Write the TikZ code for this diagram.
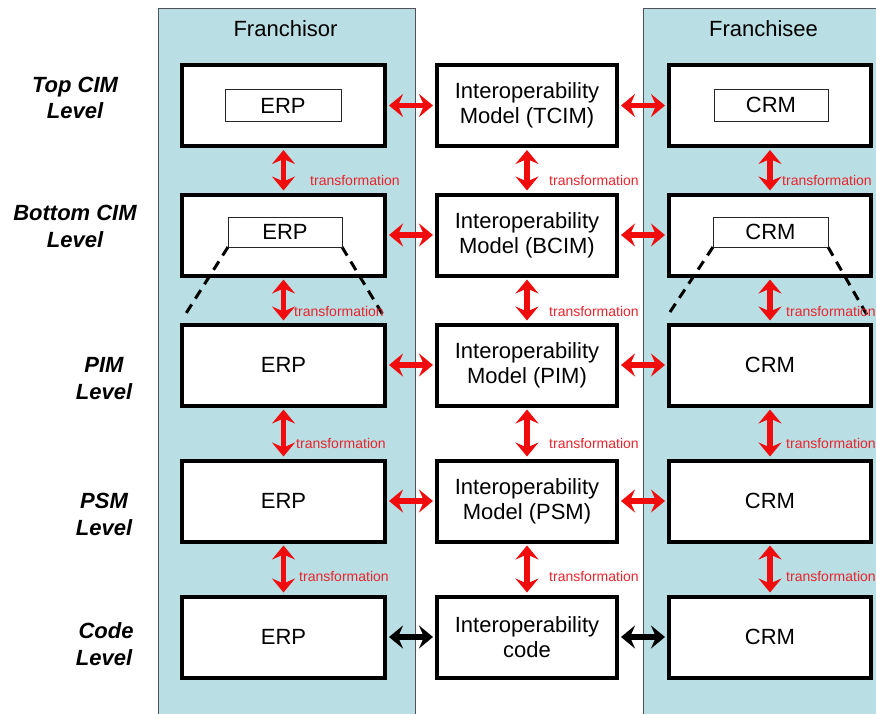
\documentclass[tikz,border=0pt]{standalone}
\usepackage{fontspec}
\setmainfont{Liberation Sans}
\usetikzlibrary{arrows.meta}
\definecolor{panelblue}{RGB}{185,222,227}
\definecolor{panelline}{RGB}{80,80,90}
\definecolor{arrred}{RGB}{240,12,12}
\definecolor{txtred}{RGB}{232,36,44}
\begin{document}
\begin{tikzpicture}[x=1pt,y=-1pt,
  panelbox/.style={fill=panelblue, draw=panelline, line width=0.9pt},
  bigbox/.style={draw=black, line width=4pt, fill=white, minimum height=81pt, inner sep=0pt,
    font=\fontsize{22}{25}\selectfont, align=center},
  lbox/.style={bigbox, minimum width=203pt},
  mbox/.style={bigbox, minimum width=180pt},
  rbox/.style={bigbox, minimum width=202pt},
  innerbox/.style={draw=black!85, line width=0.9pt, fill=white, inner sep=0pt,
    font=\fontsize{22}{25}\selectfont},
  leveltext/.style={anchor=base, font=\fontsize{22}{25}\selectfont\bfseries\itshape},
  titletext/.style={anchor=base, font=\fontsize{22}{25}\selectfont},
  transtext/.style={anchor=west, inner sep=0pt, text=txtred, font=\fontsize{14}{16}\selectfont},
  dblarrow/.style={line width=5.5pt, arrred,
    {Stealth[length=14pt,width=23pt,inset=5pt]}-{Stealth[length=14pt,width=23pt,inset=5pt]},
    shorten <=2pt, shorten >=2pt},
  blkarrow/.style={dblarrow, black},
  dashline/.style={line width=3pt, dash pattern=on 10pt off 7pt}
]
\useasboundingbox (0,0) rectangle (876,713);

% panels
\path[panelbox] (158,8) rectangle (415,722);
\path[panelbox] (643,8) rectangle (885,722);
\node[titletext] (tl) at (285.5,36) {Franchisor};
\node[titletext] (tr) at (763.5,36) {Franchisee};

% level labels
\node[leveltext] (lv1a) at (75,92) {Top CIM};
\node[leveltext] (lv1b) at (75,118) {Level};
\node[leveltext] (lv2a) at (75,220) {Bottom CIM};
\node[leveltext] (lv2b) at (75,247) {Level};
\node[leveltext] (lv3a) at (104,372) {PIM};
\node[leveltext] (lv3b) at (104,399) {Level};
\node[leveltext] (lv4a) at (104,508) {PSM};
\node[leveltext] (lv4b) at (104,535) {Level};
\node[leveltext] (lv5a) at (106,638) {Code};
\node[leveltext] (lv5b) at (104,665) {Level};

% boxes
\node[lbox] (L1) at (283.5,105.5) {};
\node[lbox] (L2) at (283.5,235) {};
\node[lbox] (L3) at (283.5,365) {ERP};
\node[lbox] (L4) at (283.5,501) {ERP};
\node[lbox] (L5) at (283.5,637) {ERP};

\node[mbox] (M1) at (527,105.5) {Interoperability\\Model (TCIM)};
\node[mbox] (M2) at (527,235) {Interoperability\\Model (BCIM)};
\node[mbox] (M3) at (527,365) {Interoperability\\Model (PIM)};
\node[mbox] (M4) at (527,501) {Interoperability\\Model (PSM)};
\node[mbox] (M5) at (527,637) {Interoperability\\code};

\node[rbox] (R1) at (770,105.5) {};
\node[rbox] (R2) at (770,235) {};
\node[rbox] (R3) at (770,365) {CRM};
\node[rbox] (R4) at (770,501) {CRM};
\node[rbox] (R5) at (770,637) {CRM};

% dashed projection lines
\coordinate (dl1) at (185,315);
\coordinate (dl2) at (383,315);
\coordinate (dr1) at (668,315);
\coordinate (dr2) at (867,315);
\draw[dashline] (228,247) -- (dl1);
\draw[dashline] (342,247) -- (dl2);
\draw[dashline] (713,247) -- (dr1);
\draw[dashline] (828,247) -- (dr2);

% inner boxes
\node[innerbox, minimum width=116pt, minimum height=32pt] (IL1) at (283,105.5) {ERP};
\node[innerbox, minimum width=114pt, minimum height=30pt] (IL2) at (285,232) {ERP};
\node[innerbox, minimum width=114pt, minimum height=32pt] (IR1) at (771,105) {CRM};
\node[innerbox, minimum width=115pt, minimum height=30pt] (IR2) at (770.5,232) {CRM};

% horizontal arrows
\foreach \i in {1,2,3,4} {
  \draw[dblarrow] (L\i.east) -- (M\i.west);
  \draw[dblarrow] (M\i.east) -- (R\i.west);
}
\draw[blkarrow] (L5.east) -- (M5.west);
\draw[blkarrow] (M5.east) -- (R5.west);

% vertical arrows
\foreach \i/\j in {1/2,2/3,3/4,4/5} {
  \draw[dblarrow] (L\i.south) -- (L\j.north);
  \draw[dblarrow] (M\i.south) -- (M\j.north);
  \draw[dblarrow] (R\i.south) -- (R\j.north);
}

% transformation labels
\node[transtext] (t1l) at (310,180) {transformation};
\node[transtext] (t1m) at (549,180) {transformation};
\node[transtext] (t1r) at (782,180) {transformation};
\node[transtext] (t2l) at (294,311) {transformation};
\node[transtext] (t2m) at (549,311) {transformation};
\node[transtext] (t2r) at (786,311) {transformation};
\node[transtext] (t3l) at (296,443) {transformation};
\node[transtext] (t3m) at (549,443) {transformation};
\node[transtext] (t3r) at (786,443) {transformation};
\node[transtext] (t4l) at (299,576) {transformation};
\node[transtext] (t4m) at (549,576) {transformation};
\node[transtext] (t4r) at (786,576) {transformation};
\end{tikzpicture}
\end{document}
